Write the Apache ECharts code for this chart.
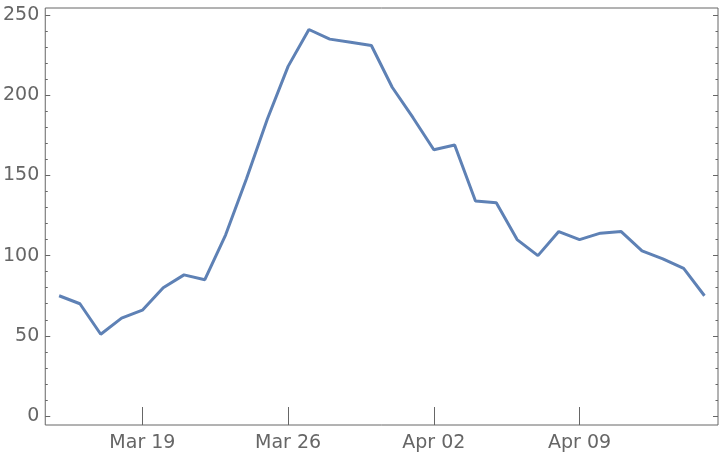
<!DOCTYPE html>
<html><head><meta charset="utf-8">
<script src="https://cdn.jsdelivr.net/npm/echarts@6/dist/echarts.min.js"></script>
<style>html,body{margin:0;padding:0;background:#fff}#c{width:720px;height:456px}</style>
</head><body><div id="c"></div>
<script>
const dates = ["2020-03-15","2020-03-16","2020-03-17","2020-03-18","2020-03-19","2020-03-20","2020-03-21","2020-03-22","2020-03-23","2020-03-24","2020-03-25","2020-03-26","2020-03-27","2020-03-28","2020-03-29","2020-03-30","2020-03-31","2020-04-01","2020-04-02","2020-04-03","2020-04-04","2020-04-05","2020-04-06","2020-04-07","2020-04-08","2020-04-09","2020-04-10","2020-04-11","2020-04-12","2020-04-13","2020-04-14","2020-04-15"];
const values = [75,70,51,61,66,80,88,85,113,148,185,218,241,235,233,231,205,186,166,169,134,133,110,100,115,110,114,115,103,98,92,75];
const xTickDates = ["2020-03-19","2020-03-26","2020-04-02","2020-04-09"];
const yMajorTicks = [0,50,100,150,200,250];
const yMinorTicks = [10,20,30,40,60,70,80,90,110,120,130,140,160,170,180,190,210,220,230,240];

function toTime(s){const p=s.split('-').map(Number);return Date.UTC(p[0],p[1]-1,p[2]);}
const DAY=86400000;
const months=["Jan","Feb","Mar","Apr","May","Jun","Jul","Aug","Sep","Oct","Nov","Dec"];
function fmtDate(v){const d=new Date(v);return months[d.getUTCMonth()]+' '+String(d.getUTCDate()).padStart(2,'0');}
const xTicks = xTickDates.map(toTime);
const xMin = toTime(dates[0]) - 0.665*DAY;
const xMax = toTime(dates[dates.length-1]) + 0.65*DAY;
const yMin = -5.6, yMax = 254.4;
const gray = '#666666';
const font = {fontFamily:'DejaVu Sans', fontSize:19, color:gray};

function yAx(pos, ticks, len, labels){
  return {type:'value', position:pos, min:yMin, max:yMax, splitLine:{show:false},
    axisLine:{show:false},
    axisTick:{show:true, inside:true, length:len, customValues:ticks, lineStyle:{color:gray,width:1}},
    axisLabel:labels?Object.assign({show:true, margin:6, customValues:ticks, padding:[3,0,0,0]},font):{show:false}};
}
function xAx(pos, labels){
  return {type:'value', position:pos, min:xMin, max:xMax, splitLine:{show:false},
    axisLine:{show:false},
    axisTick:{show:true, inside:true, length:9, customValues:xTicks, lineStyle:{color:gray,width:1}},
    axisLabel:labels?Object.assign({show:true, margin:9, customValues:xTicks, formatter:fmtDate, hideOverlap:false},font):{show:false}};
}
const chart = echarts.init(document.getElementById('c'), null, {renderer:'canvas'});
chart.setOption({
  animation:false,
  backgroundColor:'#fff',
  grid:{left:44, right:2, top:8, bottom:31, show:true, borderColor:gray, borderWidth:1, backgroundColor:'transparent'},
  xAxis:[xAx('bottom',true), xAx('top',false)],
  yAxis:[yAx('left',yMajorTicks,5,true), yAx('left',yMinorTicks,2.5,false), yAx('right',yMajorTicks,5,false), yAx('right',yMinorTicks,2.5,false)],
  series:[{type:'line', xAxisIndex:0, yAxisIndex:0, data:dates.map((d,i)=>[toTime(d),values[i]]),
    showSymbol:false, lineStyle:{color:'#5E81B5', width:3}, itemStyle:{color:'#5E81B5'}}]
});
</script></body></html>
